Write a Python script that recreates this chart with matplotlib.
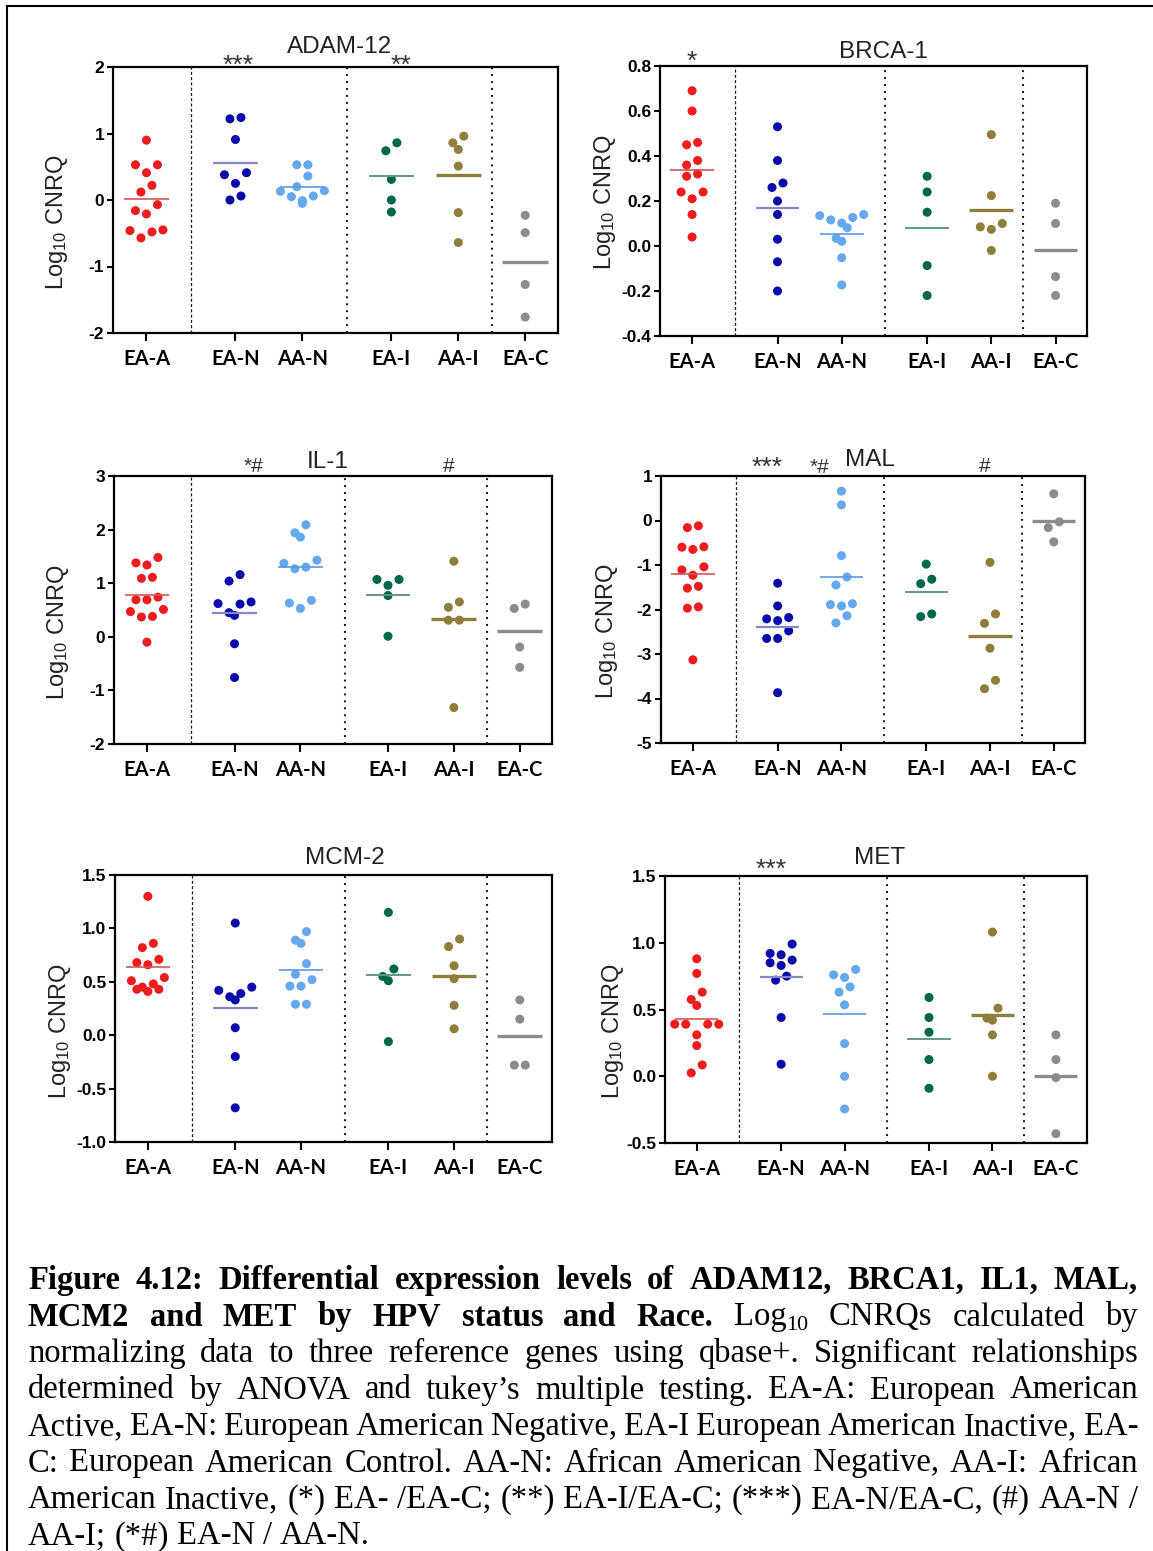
import matplotlib
matplotlib.use("Agg")
import matplotlib.pyplot as plt
import matplotlib.transforms as mtransforms
from matplotlib.lines import Line2D

plt.rcParams['font.family'] = ['Liberation Sans', 'DejaVu Sans']
plt.rcParams['mathtext.fontset'] = 'custom'
plt.rcParams['mathtext.rm'] = 'Liberation Sans'
plt.rcParams['mathtext.it'] = 'Liberation Sans:italic'
plt.rcParams['mathtext.bf'] = 'Liberation Sans:bold'
plt.rcParams['lines.scale_dashes'] = False

# ------------------------------------------------------------------ data
groups = ["EA-A", "EA-N", "AA-N", "EA-I", "AA-I", "EA-C"]
genes = ["ADAM-12", "BRCA-1", "IL-1", "MAL", "MCM-2", "MET"]

adam12 = [
    [0.90, 0.53, 0.53, 0.41, 0.22, 0.12, -0.07, -0.16, -0.21, -0.45, -0.46, -0.48, -0.57],
    [1.24, 1.22, 0.91, 0.41, 0.38, 0.25, 0.06, 0.00],
    [0.53, 0.53, 0.36, 0.20, 0.14, 0.13, 0.06, 0.05, -0.01, -0.05],
    [0.86, 0.74, 0.31, 0.00, -0.18],
    [0.96, 0.86, 0.76, 0.51, -0.19, -0.64],
    [-0.23, -0.49, -1.27, -1.76],
]
adam12_means = [0.02, 0.56, 0.20, 0.36, 0.38, -0.93]

brca1 = [
    [0.69, 0.60, 0.46, 0.45, 0.38, 0.36, 0.32, 0.31, 0.24, 0.24, 0.21, 0.14, 0.04],
    [0.53, 0.38, 0.28, 0.26, 0.20, 0.14, 0.03, -0.07, -0.20],
    [0.14, 0.135, 0.127, 0.116, 0.102, 0.081, 0.034, 0.021, -0.052, -0.173],
    [0.31, 0.24, 0.15, -0.087, -0.22],
    [0.495, 0.224, 0.10, 0.085, 0.074, -0.02],
    [0.19, 0.10, -0.136, -0.22],
]
brca1_means = [0.34, 0.17, 0.055, 0.079, 0.161, -0.018]

il1 = [
    [1.48, 1.38, 1.34, 1.11, 1.09, 0.74, 0.69, 0.69, 0.51, 0.47, 0.38, 0.37, -0.10],
    [1.16, 1.04, 0.65, 0.62, 0.61, 0.45, 0.40, -0.13, -0.76],
    [2.09, 1.94, 1.86, 1.43, 1.37, 1.30, 1.27, 0.68, 0.63, 0.53],
    [1.07, 1.07, 0.96, 0.77, 0.01],
    [1.41, 0.65, 0.55, 0.31, 0.31, -1.32],
    [0.61, 0.53, -0.19, -0.57],
]
il1_means = [0.78, 0.45, 1.30, 0.78, 0.33, 0.10]

mal = [
    [-0.12, -0.16, -0.59, -0.60, -0.65, -1.04, -1.11, -1.23, -1.48, -1.52, -1.94, -1.97, -3.13],
    [-1.41, -1.92, -2.18, -2.21, -2.25, -2.48, -2.65, -2.65, -3.87],
    [0.66, 0.35, -0.79, -1.27, -1.45, -1.87, -1.89, -1.92, -2.14, -2.30],
    [-0.98, -1.32, -1.42, -2.10, -2.16],
    [-0.94, -2.10, -2.31, -2.87, -3.59, -3.78],
    [0.60, -0.03, -0.16, -0.48],
]
mal_means = [-1.20, -2.40, -1.27, -1.60, -2.59, -0.01]

mcm2 = [
    [1.30, 0.86, 0.82, 0.71, 0.68, 0.66, 0.54, 0.51, 0.48, 0.45, 0.43, 0.43, 0.41],
    [1.05, 0.45, 0.42, 0.39, 0.36, 0.33, 0.07, -0.20, -0.68],
    [0.97, 0.89, 0.86, 0.67, 0.57, 0.52, 0.46, 0.46, 0.29, 0.29],
    [1.15, 0.62, 0.55, 0.51, -0.06],
    [0.90, 0.83, 0.65, 0.53, 0.28, 0.06],
    [0.33, 0.15, -0.28, -0.28],
]
mcm2_means = [0.64, 0.25, 0.61, 0.56, 0.55, -0.01]

met = [
    [0.88, 0.77, 0.63, 0.575, 0.53, 0.39, 0.39, 0.39, 0.39, 0.31, 0.23, 0.085, 0.025],
    [0.99, 0.92, 0.91, 0.87, 0.85, 0.83, 0.75, 0.72, 0.44, 0.09],
    [0.80, 0.76, 0.74, 0.67, 0.63, 0.535, 0.245, 0.0, -0.245],
    [0.59, 0.44, 0.33, 0.125, -0.09],
    [1.08, 0.51, 0.435, 0.42, 0.31, 0.0],
    [0.31, 0.125, -0.01, -0.43],
]
met_means = [0.43, 0.74, 0.465, 0.28, 0.46, 0.0]

adam12_yticks = [-2, -1, 0, 1, 2]
brca1_yticks = [-0.4, -0.2, 0.0, 0.2, 0.4, 0.6, 0.8]
il1_yticks = [-2, -1, 0, 1, 2, 3]
mal_yticks = [-5, -4, -3, -2, -1, 0, 1]
mcm2_yticks = [-1.0, -0.5, 0.0, 0.5, 1.0, 1.5]
met_yticks = [-0.5, 0.0, 0.5, 1.0, 1.5]

adam12_yticklabels = ["-2", "-1", "0", "1", "2"]
brca1_yticklabels = ["-0.4", "-0.2", "0.0", "0.2", "0.4", "0.6", "0.8"]
il1_yticklabels = ["-2", "-1", "0", "1", "2", "3"]
mal_yticklabels = ["-5", "-4", "-3", "-2", "-1", "0", "1"]
mcm2_yticklabels = ["-1.0", "-0.5", "0.0", "0.5", "1.0", "1.5"]
met_yticklabels = ["-0.5", "0.0", "0.5", "1.0", "1.5"]

adam12_marks = ["***", "**"]
brca1_marks = ["*"]
il1_marks = ["*#", "#"]
mal_marks = ["***", "*#", "#"]
mcm2_marks = []
met_marks = ["***"]

ylabel_text = r"Log$_{\mathregular{10}}$ CNRQ"

caption_lines = [
    "Figure 4.12: Differential expression levels of ADAM12, BRCA1, IL1, MAL,",
    "MCM2 and MET by HPV status and Race.|Log_10 CNRQs calculated by",
    "normalizing data to three reference genes using qbase+. Significant relationships",
    "determined by ANOVA and tukey\u2019s multiple testing. EA-A: European American",
    "Active, EA-N: European American Negative, EA-I European American Inactive, EA-",
    "C: European American Control. AA-N: African American Negative, AA-I: African",
    "American Inactive, (*) EA- /EA-C; (**) EA-I/EA-C; (***) EA-N/EA-C, (#) AA-N /",
    "AA-I; (*#) EA-N / AA-N.",
]

# ------------------------------------------------------------------ layout / style
W, H, DPI = 1153, 1551, 100
fig = plt.figure(figsize=(W / DPI, H / DPI), dpi=DPI)
fig.patch.set_facecolor("white")

panel_data = [adam12, brca1, il1, mal, mcm2, met]
panel_means = [adam12_means, brca1_means, il1_means, mal_means, mcm2_means, met_means]
panel_yticks = [adam12_yticks, brca1_yticks, il1_yticks, mal_yticks, mcm2_yticks, met_yticks]
panel_yticklabels = [adam12_yticklabels, brca1_yticklabels, il1_yticklabels,
                     mal_yticklabels, mcm2_yticklabels, met_yticklabels]
panel_marks = [adam12_marks, brca1_marks, il1_marks, mal_marks, mcm2_marks, met_marks]

# pixel boxes (left, top, right, bottom)
boxes = [(113, 67, 558, 333), (660, 66, 1087, 336),
         (114, 476, 552, 744), (661, 476, 1085, 743),
         (115, 875, 552, 1142), (665, 876, 1087, 1143)]
group_x = [0.0, 1.33, 2.33, 3.66, 4.66, 5.66]
xlim = (-0.5, 6.15)
sep_x = [0.67, 3.0, 5.16]

# annotation (x in data units, baseline pixel)
mark_pos = [[(1.37, 73), (3.81, 73)],
            [(0.0, 69)],
            [(1.62, 472), (4.58, 472)],
            [(1.17, 475), (1.98, 473), (4.57, 472)],
            [],
            [(1.18, 877)]]
title_pos = [(340, 53), (883, 58), (328, 468), (870, 466), (345, 864), (880, 864)]
ylabel_pos = [(57, 222), (605, 202), (58, 632), (607, 631), (60, 1031), (613, 1031)]

point_colors = ['#EE1C1C', '#0A0AAA', '#64A8EE', '#00674B', '#8E7E3A', '#8C8C8C']
mean_colors = ['#D45555', '#8888C8', '#5A9AE0', '#5E9A86', '#8E7E3A', '#8C8C8C']
mean_lw = [1.2, 1.6, 1.2, 1.4, 2.4, 2.4]
mean_half = 0.34
PX = 72.0 / DPI  # points per pixel


def swarm_offsets(vals, px_per_x, px_per_y, spacing_px=11.0, row_px=11.0):
    order = sorted(range(len(vals)), key=lambda i: -vals[i])
    offs = [0.0] * len(vals)
    rows, cur = [], []
    for i in order:
        if cur and (vals[cur[0]] - vals[i]) * px_per_y > row_px:
            rows.append(cur)
            cur = []
        cur.append(i)
    if cur:
        rows.append(cur)
    for row in rows:
        n = len(row)
        slots = [(k - (n - 1) / 2.0) * spacing_px for k in range(n)]
        slots.sort(key=lambda s: (abs(s), s))
        asc = sorted(row, key=lambda i: vals[i])
        for i, s in zip(asc, slots):
            offs[i] = s / px_per_x
    return offs


for p in range(6):
    l, t, r, b = boxes[p]
    ax = fig.add_axes([l / W, 1 - b / H, (r - l) / W, (b - t) / H])
    yt = panel_yticks[p]
    ylim = (yt[0], yt[-1])
    ax.set_xlim(*xlim)
    ax.set_ylim(*ylim)
    px_per_x = (r - l) / (xlim[1] - xlim[0])
    px_per_y = (b - t) / (ylim[1] - ylim[0])

    for sx, (ls, lw) in zip(sep_x, [((0, (2.2, 1.6)), 0.9), ((0, (1.4, 3.6)), 1.5), ((0, (1.4, 3.6)), 1.5)]):
        ax.axvline(sx, color='#1a1a1a', linestyle=ls, linewidth=lw, zorder=1)

    for g in range(6):
        vals = panel_data[p][g]
        offs = swarm_offsets(vals, px_per_x, px_per_y)
        xs = [group_x[g] + o for o in offs]
        ax.scatter(xs, vals, s=6.5 ** 2, color=point_colors[g], edgecolors='none', zorder=3)
        ax.hlines(panel_means[p][g], group_x[g] - mean_half, group_x[g] + mean_half,
                  colors=mean_colors[g], linewidth=mean_lw[g], zorder=4)

    for sp in ax.spines.values():
        sp.set_linewidth(1.6)
        sp.set_color('black')
    ax.set_yticks(yt)
    ax.set_yticklabels(panel_yticklabels[p], fontsize=12.5, fontweight='bold')
    ax.set_xticks(group_x)
    ax.set_xticklabels(groups, fontsize=14.5, fontweight='bold', fontfamily='Lato')
    ax.tick_params(axis='y', direction='out', length=6 * PX, width=1.5, pad=2)
    ax.tick_params(axis='x', direction='out', length=8 * PX, width=1.5, pad=6)
    if p >= 4:
        ax.xaxis.get_major_ticks()[5].tick1line.set_visible(False)

    # y label
    xl, yl = ylabel_pos[p]
    fig.text(xl / W, 1 - yl / H, ylabel_text, rotation=90, ha='center', va='center',
             fontsize=17, color='#222222', fontfamily='Liberation Sans')
    # title
    tx, ty = title_pos[p]
    fig.text(tx / W, 1 - ty / H, genes[p], ha='center', va='baseline', fontsize=17.5,
             color='#222222', fontfamily='Liberation Sans')
    # significance marks
    trans = mtransforms.blended_transform_factory(ax.transData, fig.transFigure)
    for txt, (mx, my) in zip(panel_marks[p], mark_pos[p]):
        size = 19 if '#' not in txt else 15
        ax.text(mx, 1 - my / H, txt, transform=trans, ha='center', va='baseline',
                fontsize=size, color='#333333', fontfamily='Liberation Sans', clip_on=False)

# ------------------------------------------------------------------ frame
fig.add_artist(Line2D([7 / W, 7 / W], [0, 1 - 6 / H], transform=fig.transFigure,
                      color='black', linewidth=1.5))
fig.add_artist(Line2D([7 / W, 1.0], [1 - 6 / H, 1 - 6 / H], transform=fig.transFigure,
                      color='black', linewidth=1.5))

# ------------------------------------------------------------------ caption (justified)
renderer = fig.canvas.get_renderer()
CAP_FONT = 'Liberation Serif'
CAP_SIZE = 23.5
CAP_L, CAP_R = 28, 1138
BASE0, LSTEP = 1289, 36.5


def measure(txt, weight, size):
    tt = fig.text(0, 0, txt, fontsize=size, fontweight=weight, fontfamily=CAP_FONT)
    w = tt.get_window_extent(renderer).width
    tt.remove()
    return w


def make_words(line):
    words = []
    if '|' in line:
        bold_part, norm_part = line.split('|')
        for wd in bold_part.split():
            words.append([(wd, 'bold', CAP_SIZE, 0)])
        for wd in norm_part.split():
            if wd.startswith('Log_'):
                words.append([('Log', 'normal', CAP_SIZE, 0), (wd[4:], 'normal', CAP_SIZE * 0.68, -5)])
            else:
                words.append([(wd, 'normal', CAP_SIZE, 0)])
    else:
        weight = 'bold' if line.startswith('Figure') else 'normal'
        for wd in line.split():
            words.append([(wd, weight, CAP_SIZE, 0)])
    return words


space_w = measure('a a', 'normal', CAP_SIZE) - measure('aa', 'normal', CAP_SIZE)
for li, line in enumerate(caption_lines):
    words = make_words(line)
    widths = []
    for wd in words:
        widths.append(sum(measure(s, wt, sz) for s, wt, sz, dy in wd))
    total = sum(widths)
    last = (li == len(caption_lines) - 1)
    gap = space_w if last else (CAP_R - CAP_L - total) / (len(words) - 1)
    base = BASE0 + li * LSTEP
    x = CAP_L
    for wd, ww in zip(words, widths):
        xx = x
        for s, wt, sz, dy in wd:
            fig.text(xx / W, 1 - (base - dy) / H, s, fontsize=sz, fontweight=wt,
                     fontfamily=CAP_FONT, ha='left', va='baseline', color='black')
            xx += measure(s, wt, sz)
        x += ww + gap

fig.savefig('out.png', dpi=DPI, facecolor='white')
